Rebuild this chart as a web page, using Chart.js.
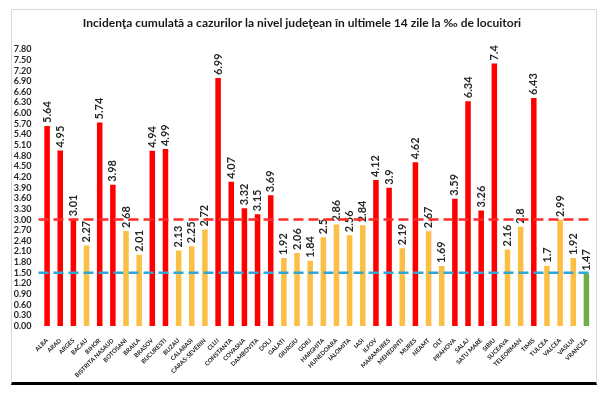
<!DOCTYPE html>
<html>
<head>
<meta charset="utf-8">
<script src="https://cdn.jsdelivr.net/npm/chart.js@4"></script>
<style>
    html, body { margin: 0; padding: 0; background: #fff; }
    #wrap { position: relative; width: 609px; height: 394px; }
    #frame {
        position: absolute; left: 11px; top: 9px; width: 584px; height: 372px;
        border: 1px solid #d9d9d9; border-bottom: 3px solid #000;
    }
    #chart { position: absolute; left: 0; top: 0; }
</style>
</head>
<body>
<div id="wrap">
    <div id="frame"></div>
    <canvas id="chart" width="609" height="394"></canvas>
</div>
<script>
const counties = ['ALBA', 'ARAD', 'ARGES', 'BACAU', 'BIHOR', 'BISTRITA NASAUD', 'BOTOSANI', 'BRAILA',
    'BRASOV', 'BUCURESTI', 'BUZAU', 'CALARASI', 'CARAS-SEVERIN', 'CLUJ', 'CONSTANTA', 'COVASNA',
    'DAMBOVITA', 'DOLJ', 'GALATI', 'GIURGIU', 'GORJ', 'HARGHITA', 'HUNEDOARA', 'IALOMITA', 'IASI',
    'ILFOV', 'MARAMURES', 'MEHEDINTI', 'MURES', 'NEAMT', 'OLT', 'PRAHOVA', 'SALAJ', 'SATU MARE',
    'SIBIU', 'SUCEAVA', 'TELEORMAN', 'TIMIS', 'TULCEA', 'VALCEA', 'VASLUI', 'VRANCEA'];
const incidence = [5.64, 4.95, 3.01, 2.27, 5.74, 3.98, 2.68, 2.01,
    4.94, 4.99, 2.13, 2.25, 2.72, 6.99, 4.07, 3.32,
    3.15, 3.69, 1.92, 2.06, 1.84, 2.5, 2.86, 2.56, 2.84,
    4.12, 3.9, 2.19, 4.62, 2.67, 1.69, 3.59, 6.34, 3.26,
    7.4, 2.16, 2.8, 6.43, 1.7, 2.99, 1.92, 1.47];
const redLimit = 3.0;
const blueLimit = 1.5;
const yMax = 7.8;
const yStep = 0.3;

const barColor = v => v > redLimit ? '#ff0000' : (v >= blueLimit ? '#fbbf45' : '#70ad47');

// value labels, turned upright above each bar
const valueLabels = {
    id: 'valueLabels',
    afterDatasetsDraw(chart) {
        const ctx = chart.ctx;
        const meta = chart.getDatasetMeta(0);
        ctx.save();
        ctx.font = 'bold 11px Lato';
        ctx.fillStyle = '#262626';
        ctx.textAlign = 'left';
        ctx.textBaseline = 'middle';
        meta.data.forEach((bar, i) => {
            ctx.save();
            ctx.translate(bar.x, bar.y - 3);
            ctx.rotate(-Math.PI / 2);
            ctx.fillText(String(incidence[i]), 0, 0);
            ctx.restore();
        });
        ctx.restore();
    }
};

// dashed threshold lines
const limitLines = {
    id: 'limitLines',
    afterDraw(chart) {
        const ctx = chart.ctx;
        const area = chart.chartArea;
        const y = chart.scales.y;
        [[redLimit, '#ff2a2a'], [blueLimit, '#2ea7d6']].forEach(([v, c]) => {
            const py = y.getPixelForValue(v);
            ctx.save();
            ctx.strokeStyle = c;
            ctx.lineWidth = 2.5;
            ctx.setLineDash([10, 5]);
            ctx.beginPath();
            ctx.moveTo(area.left - 2, py);
            ctx.lineTo(area.right, py);
            ctx.stroke();
            ctx.restore();
        });
    }
};

const ctx = document.getElementById('chart').getContext('2d');
const chart = new Chart(ctx, {
    type: 'bar',
    data: {
        labels: counties,
        datasets: [{
            data: incidence,
            backgroundColor: incidence.map(barColor),
            barPercentage: 0.42,
            categoryPercentage: 1
        }]
    },
    options: {
        responsive: false,
        animation: false,
        layout: { padding: { left: 11, right: 16, bottom: 12 } },
        plugins: {
            legend: { display: false },
            tooltip: { enabled: false },
            title: {
                display: true,
                text: 'Incidenţa cumulată a cazurilor la nivel judeţean în ultimele 14 zile la ‰ de locuitori',
                color: '#1a1a1a',
                font: { family: 'Lato', size: 12, weight: 'bold' },
                padding: { top: 16, bottom: 19 }
            }
        },
        scales: {
            x: {
                grid: { display: false, drawTicks: false },
                border: { display: false },
                ticks: {
                    autoSkip: false,
                    maxRotation: 45,
                    minRotation: 45,
                    padding: 11,
                    color: '#222',
                    font: { family: 'Lato', size: 6, weight: 'bold' }
                },
                afterFit(scale) { scale.height = 56; }
            },
            y: {
                min: 0,
                max: yMax,
                grid: { display: false, drawTicks: false },
                border: { display: false },
                ticks: {
                    stepSize: yStep,
                    autoSkip: false,
                    maxTicksLimit: 40,
                    padding: 9,
                    color: '#262626',
                    font: { family: 'Lato', size: 9, weight: 'bold' },
                    callback: v => Number(v).toFixed(2)
                },
                afterFit(scale) { scale.width = 29.5; }
            }
        }
    },
    plugins: [valueLabels, limitLines]
});
</script>
</body>
</html>
